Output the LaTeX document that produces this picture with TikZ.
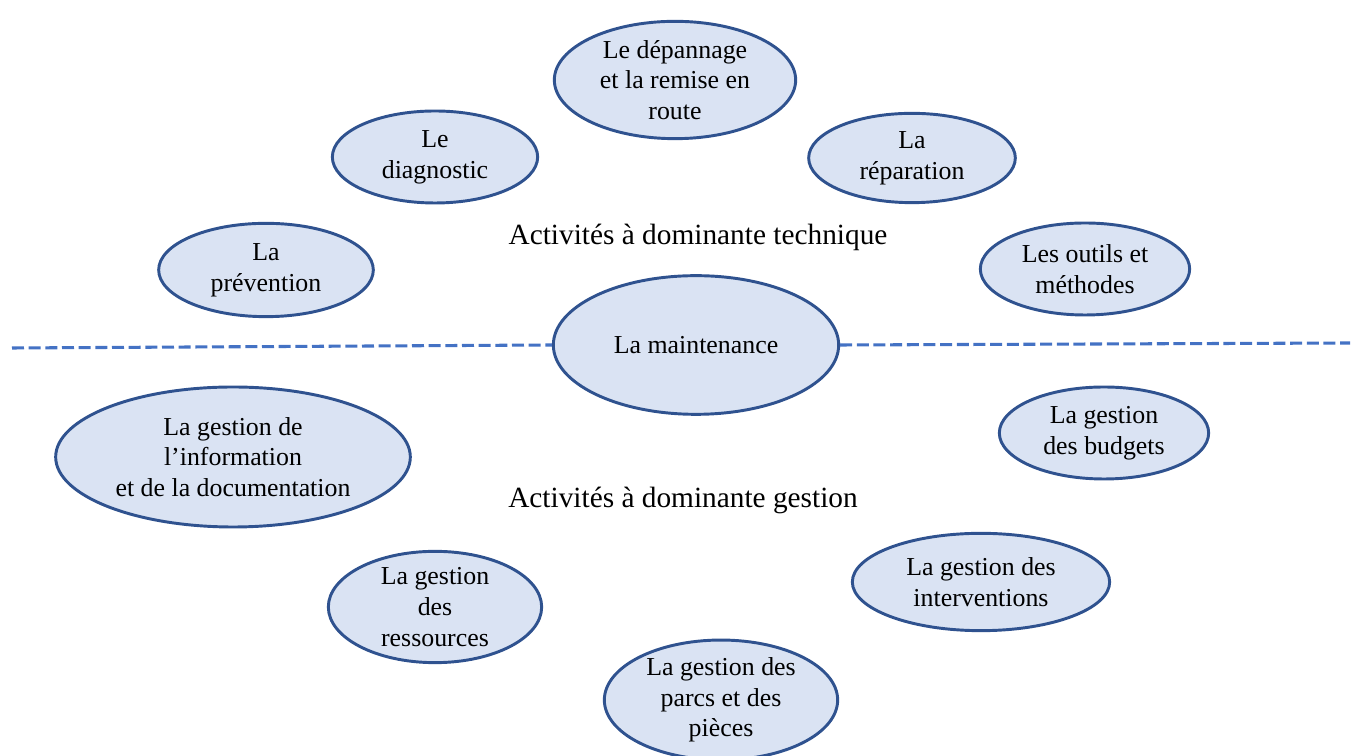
\documentclass[tikz,border=0pt]{standalone}
\usepackage{fontspec}
\setmainfont{Liberation Serif}
\usepackage{xcolor}
\usepackage{tikz}
\usetikzlibrary{shapes.geometric}
\definecolor{bullefond}{HTML}{DAE3F3}
\definecolor{bullebord}{HTML}{2F528F}
\definecolor{traitbleu}{HTML}{4472C4}

\begin{document}
\begin{tikzpicture}[x=0.75pt,y=0.75pt,
  bulle/.style={ellipse,draw=bullebord,line width=2.2pt,fill=bullefond,inner sep=0pt,align=center,font=\fontsize{19.4}{23}\selectfont},
  titre/.style={font=\fontsize{22}{26}\selectfont}]
\useasboundingbox (0,0) rectangle (1357,756);
% activites techniques
\node[bulle,minimum width=181pt,minimum height=88pt] (dep) at (675,676) {Le dépannage\\et la remise en\\route};
\node[bulle,minimum width=154pt,minimum height=69pt] (diag) at (435,599) {Le\\diagnostic};
\node[bulle,minimum width=155pt,minimum height=67pt] (rep) at (912,598) {La\\réparation};
\node[bulle,minimum width=161pt,minimum height=70pt] (prev) at (266,486) {La\\prévention};
\node[bulle,minimum width=157pt,minimum height=69pt] (outils) at (1085,487) {Les outils et\\méthodes};
\node[titre] (tech) at (698,519) {Activités à dominante technique};
% centre
\node[bulle,minimum width=214pt,minimum height=104pt] (maint) at (696,411) {La maintenance};
\coordinate (gauche) at (12,408);
\coordinate (droite) at (1350,413);
\draw[traitbleu,line width=2.3pt,dash pattern=on 9pt off 3.5pt] (gauche) -- (maint.west);
\draw[traitbleu,line width=2.3pt,dash pattern=on 9pt off 3.5pt] (maint.east) -- (droite);
% activites de gestion
\node[bulle,minimum width=266pt,minimum height=105pt] (info) at (233,299) {La gestion de\\l’information\\et de la documentation};
\node[bulle,minimum width=157pt,minimum height=69pt] (budg) at (1104,323) {La gestion\\des budgets};
\node[titre] (gest) at (683,256) {Activités à dominante gestion};
\node[bulle,minimum width=160pt,minimum height=77pt] (ress) at (435,149) {La gestion\\des\\ressources};
\node[bulle,minimum width=193pt,minimum height=73pt] (interv) at (981,174) {La gestion des\\interventions};
\node[bulle,minimum width=175pt,minimum height=82pt] (parcs) at (721,56) {La gestion des\\parcs et des\\pièces};
\end{tikzpicture}
\end{document}
